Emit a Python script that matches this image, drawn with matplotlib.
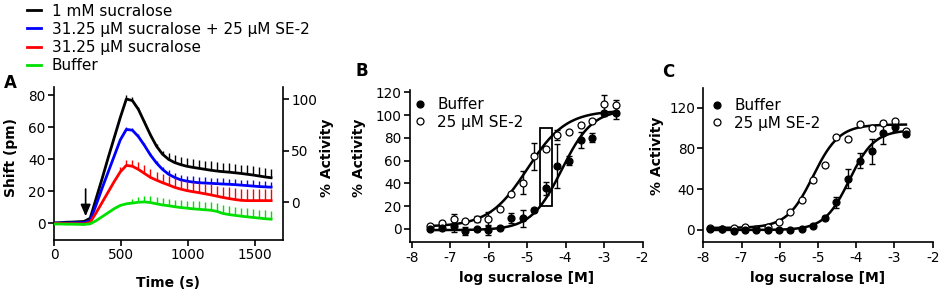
import numpy as np
import matplotlib
matplotlib.use("Agg")
import matplotlib.pyplot as plt
from matplotlib.lines import Line2D

plt.rcParams['font.family'] = ['DejaVu Sans']
plt.rcParams['axes.unicode_minus'] = False

# ---------------- Panel A data (time course) ----------------
time_s = [0, 45, 90, 135, 180, 225, 270, 315, 360, 405, 450, 495, 540, 585, 630,
          675, 720, 765, 810, 855, 900, 945, 990, 1035, 1080, 1125, 1170, 1215,
          1260, 1305, 1350, 1395, 1440, 1485, 1530, 1575, 1620]
sucralose_1mM = [0, 0.2, 0.5, 0.6, 0.8, 1.0, 3, 15.5, 28, 41, 53.5, 66, 77.5, 76.5, 71,
                 63, 55, 48, 43, 39.8, 37.8, 36.5, 35.5, 34.8, 34.2, 33.6, 33, 32.5,
                 32.1, 31.8, 31.4, 31, 30.5, 30, 29.4, 28.8, 28.3]
sucralose_1mM_err = [0, 0, 0, 0, 0, 0, 0, 0, 0, 0, 0, 0, 2.5, 2, 1.5,
                     1.5, 1.5, 1.5, 2, 4, 4.5, 5, 5, 5.2, 5.3, 5.4, 5.5, 5.5,
                     5.5, 5.5, 5.5, 5.5, 5.5, 5.5, 5.5, 5.5, 5.5]
suc31_se2 = [0, 0, 0, 0.1, 0.2, 0.3, 1.5, 11.5, 22, 32, 42, 52, 58.5, 58, 54,
             48.5, 42.5, 37.5, 33.5, 30.5, 28.5, 27, 26.2, 25.6, 25.2, 25, 24.8, 24.6,
             24.4, 24.2, 24, 23.7, 23.4, 23.1, 22.8, 22.6, 22.4]
suc31_se2_err = [0, 0, 0, 0, 0, 0, 0, 0, 0, 0, 0, 0, 1.5, 1.5, 1.5,
                 1.5, 1.5, 1.5, 1.5, 2.5, 3, 3.3, 3.5, 3.5, 3.5, 3.5, 3.5, 3.5,
                 3.5, 3.5, 3.5, 3.5, 3.5, 3.5, 3.5, 3.5, 3.5]
suc31 = [-0.3, -0.3, -0.4, -0.4, -0.4, -0.5, 0.5, 6.5, 13, 19.5, 26, 32, 36, 35.5, 33.5,
         31, 28.5, 26.8, 25.2, 23.8, 22.3, 21.2, 20.3, 19.6, 19, 18.3, 17.6, 16.8,
         16, 15.3, 14.7, 14.2, 14, 14, 14, 14, 14]
suc31_err = [0, 0, 0, 0, 0, 0, 0, 0, 0, 0, 0, 3, 3.5, 4, 4.5,
             5, 5, 5.2, 5.4, 5.6, 5.8, 6, 6, 6.2, 6.3, 6.4, 6.5, 6.6,
             6.8, 7, 7, 7, 7, 7, 7, 7, 7]
buffer_A = [-0.6, -0.6, -0.7, -0.7, -0.8, -0.9, -0.5, 1.5, 4, 6.5, 9, 11, 12, 12.5, 13,
            13.2, 12.8, 12, 11.3, 10.8, 10.2, 9.7, 9.3, 8.9, 8.6, 8.3, 8, 7.3,
            6, 5.3, 4.8, 4.3, 3.9, 3.5, 3.1, 2.7, 2.4]
buffer_A_err = [0, 0, 0, 0, 0, 0, 0, 0, 0, 0, 0, 0, 0, 2.5, 3,
                3.5, 3.8, 4, 4.2, 4.4, 4.5, 4.6, 4.7, 4.8, 4.9, 5, 5, 5,
                5.1, 5.1, 5.2, 5.2, 5.2, 5.2, 5.2, 5.2, 5.2]
arrow_time = 236
activity_zero_shift = 13.0     # shift (pm) that maps to 0 % activity
activity_full_shift = 77.5     # shift (pm) that maps to 100 % activity

# ---------------- Panel B data ----------------
logB = [-7.52, -7.22, -6.91, -6.61, -6.31, -6.01, -5.71, -5.41, -5.11, -4.81,
        -4.51, -4.21, -3.90, -3.60, -3.30, -3.00, -2.70]
B_buffer = [-0.3, 0.6, 2.6, -1.5, -0.3, -0.9, 1.2, 9.4, 9.4, 16.7,
            35.7, 55.3, 60, 78, 80.2, 101.5, 101.5]
B_buffer_err = [1, 1, 5, 3.5, 1.5, 4, 1.5, 4.4, 7.6, 1.5,
                5.9, 19.3, 4, 7, 3.8, 2, 5.3]
B_se2 = [2.9, 5, 8.5, 7, 8.5, 9, 17.6, 30.7, 40.7, 64,
         70.5, 82.5, 84.9, 91.3, 94.8, 110, 108.6]
B_se2_err = [1, 1, 4.4, 1, 2.6, 6, 1, 2, 10.4, 11.8,
             1, 4.4, 1, 1.5, 2, 7.6, 4.6]
# Hill fits: bottom, top, logEC50, hill slope
B_fit_buffer = [-1.0, 105.0, -4.10, 1.09]
B_fit_se2 = [2.0, 104.0, -4.99, 0.868]
B_box = [-4.67, 20.5, -4.34, 89.0]   # x0, y0, x1, y1

# ---------------- Panel C data ----------------
logC = [-7.82, -7.52, -7.21, -6.90, -6.61, -6.31, -6.02, -5.72, -5.42, -5.13,
        -4.82, -4.52, -4.21, -3.90, -3.60, -3.29, -2.99, -2.70]
C_buffer = [0.7, 0.5, -1, 0, 0, 0, 0, 0, 0.7, 4,
            12.2, 27, 50.3, 68, 77.2, 95.4, 101, 94.4]
C_buffer_err = [1, 1, 1, 1, 1, 1, 1, 1, 1, 1.5,
                1.5, 5, 9.5, 7.6, 12, 11.5, 4, 2]
C_se2 = [1.6, 1, 2.3, 3.3, 1, 2.6, 7.6, 17.5, 29, 48.6,
         64, 91.4, 89.4, 104.2, 100.3, 105.2, 106.8, 97]
C_fit_buffer = [0.0, 98.0, -4.18, 1.33]
C_fit_se2 = [2.0, 103.5, -5.13, 1.27]

legendA_labels = ['1 mM sucralose', '31.25 μM sucralose + 25 μM SE-2',
                  '31.25 μM sucralose', 'Buffer']
legendA_colors = ['#000000', '#0000FF', '#FF0000', '#00E000']
legendBC_labels = ['Buffer', '25 μM SE-2']


def hill(x, p):
    bottom, top, logec, h = p
    x = np.asarray(x, dtype=float)
    return bottom + (top - bottom) / (1 + 10 ** ((logec - x) * h))


W, H = 941, 296
fig = plt.figure(figsize=(W / 100, H / 100), dpi=100)


def px_axes(l, t, r, b):
    return fig.add_axes([l / W, 1 - b / H, (r - l) / W, (b - t) / H])


TICK_FS = 9.8
LAB_FS = 10
LEG_FS = 11


def style_axes(ax):
    for s in ['top', 'right']:
        ax.spines[s].set_visible(False)
    for s in ['left', 'bottom']:
        ax.spines[s].set_linewidth(1.2)
    ax.tick_params(direction='out', length=4, width=1.2, labelsize=TICK_FS, pad=2)


# ---------------- Panel A ----------------
axA = px_axes(54, 87, 283, 240)
style_axes(axA)
series = [(sucralose_1mM, sucralose_1mM_err), (suc31_se2, suc31_se2_err),
          (suc31, suc31_err), (buffer_A, buffer_A_err)]
for i, ((y, e), c) in enumerate(zip(series, legendA_colors)):
    y = np.array(y)
    e = np.array(e)
    axA.errorbar(time_s, y, yerr=[np.zeros_like(e), e], fmt='none', ecolor=c,
                 elinewidth=1.0, capsize=0, zorder=2 + i)
    axA.plot(time_s, y, color=c, lw=2.0, zorder=3 + i, solid_joinstyle='round')
axA.annotate('', xy=(arrow_time, 2.5), xytext=(arrow_time, 23),
             arrowprops=dict(arrowstyle='-|>,head_length=0.7,head_width=0.3',
                             color='black', lw=1.2), zorder=10)
yA = (-10.6, 85)
axA.set_xlim(0, 1709)
axA.set_ylim(*yA)
axA.set_xticks([0, 500, 1000, 1500])
axA.set_yticks([0, 20, 40, 60, 80])
axA.set_xlabel('Time (s)', fontsize=LAB_FS, fontweight='bold', va='center')
axA.xaxis.set_label_coords(0.498, -0.281)
axA.set_ylabel('Shift (pm)', fontsize=LAB_FS, fontweight='bold', va='center')
axA.yaxis.set_label_coords(-0.188, 0.539)


def s2a(y):
    return (y - activity_zero_shift) / (activity_full_shift - activity_zero_shift) * 100


axR = axA.twinx()
for s in ['top', 'left', 'bottom']:
    axR.spines[s].set_visible(False)
axR.spines['right'].set_linewidth(1.2)
axR.set_ylim(s2a(yA[0]), s2a(yA[1]))
axR.set_yticks([0, 50, 100])
axR.tick_params(direction='out', length=4, width=1.2, labelsize=TICK_FS, pad=2)
axR.set_ylabel('% Activity', fontsize=LAB_FS, fontweight='bold', va='center')
axR.yaxis.set_label_coords(1.19, 0.539)

handlesA = [Line2D([], [], color=c, lw=2.0) for c in legendA_colors]
fig.legend(handlesA, legendA_labels, loc='upper left',
           bbox_to_anchor=(27 / W, 1 - 3.5 / H), frameon=False, fontsize=LEG_FS,
           handlelength=0.9, handletextpad=0.72, labelspacing=0.21,
           borderpad=0, borderaxespad=0)

fig.text(10 / W, 1 - 82.5 / H, 'A', fontsize=12, fontweight='bold',
         ha='center', va='center')


def dose_panel(ax, x, yb, eb, ys, es, fb, fs, xlim, ylim, yticks):
    style_axes(ax)
    xx = np.linspace(min(x), max(x), 300)
    ax.plot(xx, hill(xx, fb), color='black', lw=1.8, zorder=2)
    ax.plot(xx, hill(xx, fs), color='black', lw=1.8, zorder=2)
    if es is not None:
        ax.errorbar(x, ys, yerr=es, fmt='none', ecolor='black', elinewidth=1.0,
                    capsize=2.2, capthick=1.0, zorder=3)
    ax.errorbar(x, yb, yerr=eb, fmt='none', ecolor='black', elinewidth=1.0,
                capsize=2.2, capthick=1.0, zorder=3)
    ax.plot(x, ys, 'o', ms=5, mfc='white', mec='black', mew=0.9, zorder=4)
    ax.plot(x, yb, 'o', ms=5, mfc='black', mec='black', mew=0.9, zorder=5)
    ax.set_xlim(*xlim)
    ax.set_ylim(*ylim)
    ax.set_xticks([-8, -7, -6, -5, -4, -3, -2])
    ax.set_yticks(yticks)
    ax.set_xlabel('log sucralose [M]', fontsize=LAB_FS, fontweight='bold', va='center')
    ax.set_ylabel('% Activity', fontsize=LAB_FS, fontweight='bold', va='center')


def dose_legend(ax, x0px, top_px):
    h = [Line2D([], [], ls='none', marker='o', ms=5, mfc='black', mec='black', mew=0.9),
         Line2D([], [], ls='none', marker='o', ms=5, mfc='white', mec='black', mew=0.9)]
    fig.legend(h, legendBC_labels, loc='upper left',
               bbox_to_anchor=(x0px / W, 1 - top_px / H), frameon=False,
               fontsize=LEG_FS, handlelength=0.8, handletextpad=0.73,
               labelspacing=0.18, borderpad=0, borderaxespad=0, numpoints=1)


# ---------------- Panel B ----------------
axB = px_axes(410, 90, 642.5, 242.3)
dose_panel(axB, logB, B_buffer, B_buffer_err, B_se2, B_se2_err,
           B_fit_buffer, B_fit_se2, (-8.044, -2.0), (-11.7, 122),
           [0, 20, 40, 60, 80, 100, 120])
axB.add_patch(plt.Rectangle((B_box[0], B_box[1]), B_box[2] - B_box[0],
                            B_box[3] - B_box[1], fill=False, ec='black', lw=1.3,
                            zorder=6))
axB.xaxis.set_label_coords(0.503, -0.234)
axB.yaxis.set_label_coords(-0.2215, 0.553)
dose_legend(axB, 414, 97)
fig.text(362 / W, 1 - 71 / H, 'B', fontsize=12, fontweight='bold',
         ha='center', va='center')

# ---------------- Panel C ----------------
axC = px_axes(703.3, 88.3, 932.7, 242.3)
dose_panel(axC, logC, C_buffer, C_buffer_err, C_se2, None,
           C_fit_buffer, C_fit_se2, (-8.0, -2.0), (-12.1, 139),
           [0, 40, 80, 120])
axC.xaxis.set_label_coords(0.5, -0.232)
axC.yaxis.set_label_coords(-0.2, 0.56)
dose_legend(axC, 711, 98)
fig.text(668 / W, 1 - 72 / H, 'C', fontsize=12, fontweight='bold',
         ha='center', va='center')

fig.savefig('out.png', dpi=100)
